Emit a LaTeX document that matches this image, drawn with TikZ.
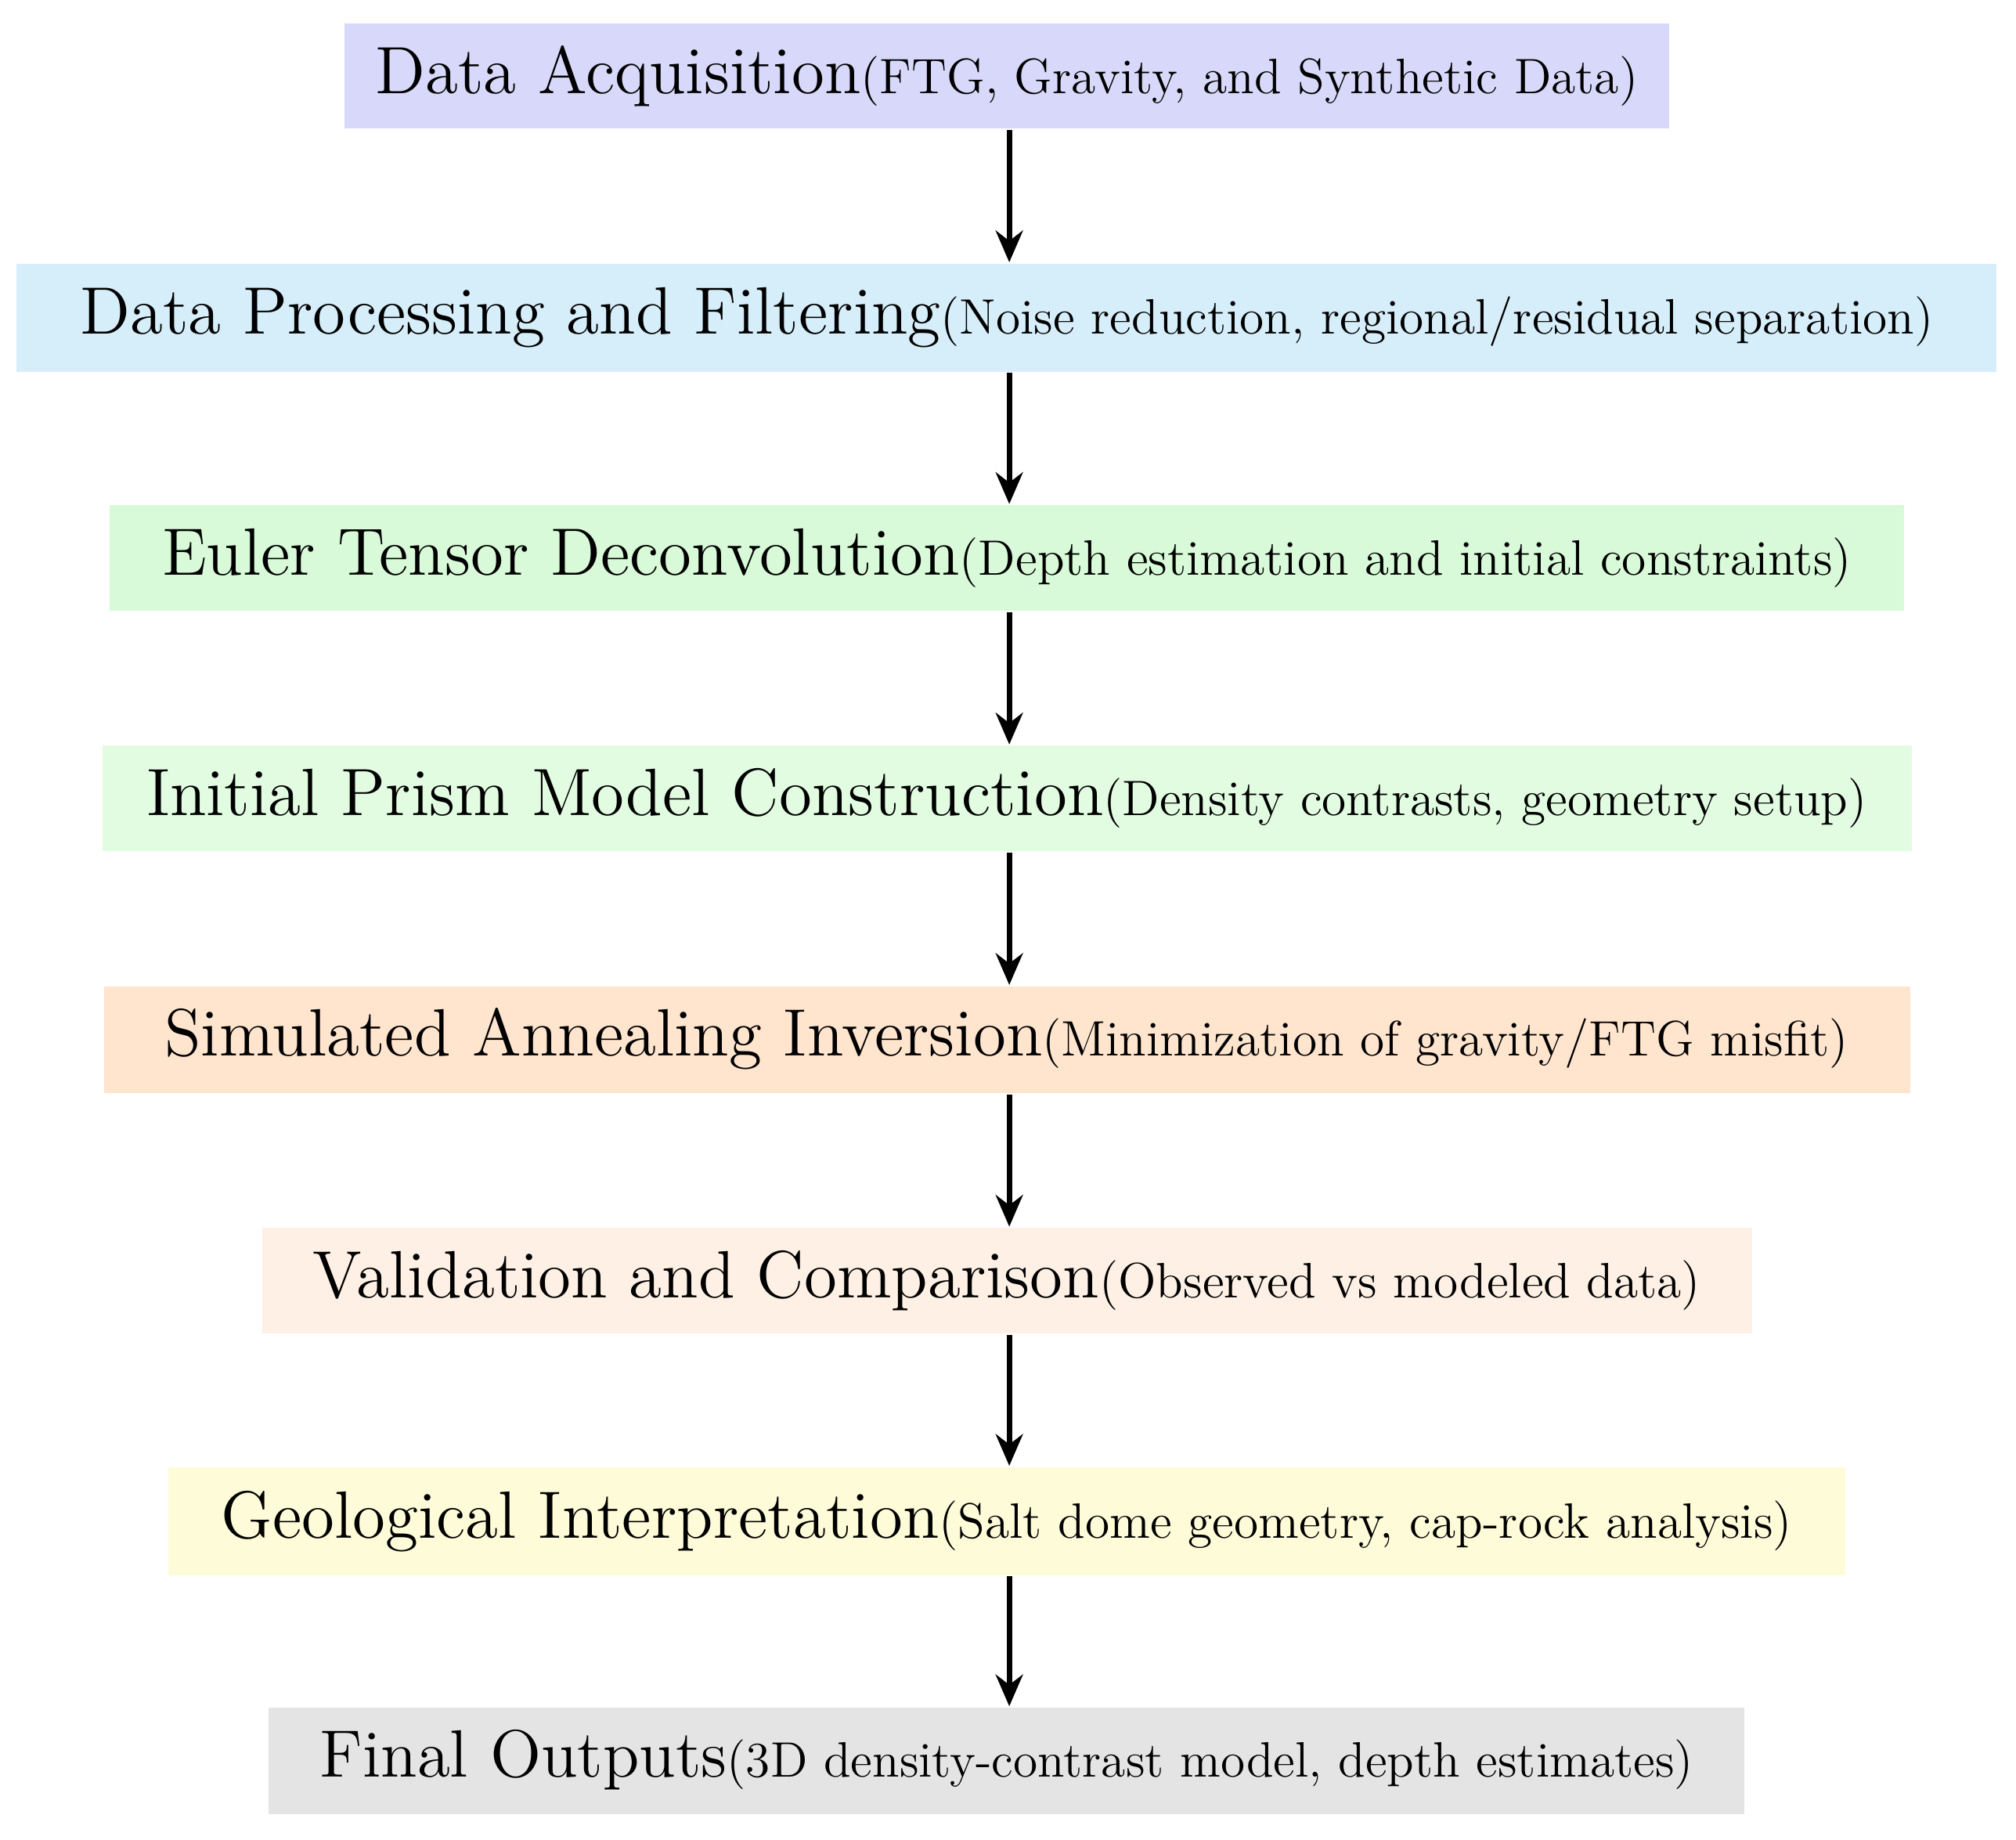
\documentclass[tikz,border=0pt]{standalone}
\usetikzlibrary{arrows.meta}
\begin{document}
\begin{tikzpicture}[x=0.01cm,y=-0.01cm,
  stepbox/.style={inner sep=0pt,minimum height=0.82cm,font=\fontsize{14.8}{17}\selectfont},
  arr/.style={-{Stealth[length=7pt,width=6pt]},line width=1.2pt}]
\newcommand\smtxt{\fontsize{11}{13}\selectfont}
\useasboundingbox (0,0) rectangle (1568,1431);
\definecolor{c1}{RGB}{216,216,250}
\definecolor{c2}{RGB}{214,238,250}
\definecolor{c3}{RGB}{216,250,216}
\definecolor{c4}{RGB}{226,252,226}
\definecolor{c5}{RGB}{255,228,206}
\definecolor{c6}{RGB}{254,240,228}
\definecolor{c7}{RGB}{254,252,216}
\definecolor{c8}{RGB}{228,228,228}
\fill[c1] (268,18) rectangle (1298,100);
\fill[c2] (13,205) rectangle (1553,289);
\fill[c3] (85,393) rectangle (1481,475);
\fill[c4] (80,580) rectangle (1487,662);
\fill[c5] (81,767) rectangle (1486,850);
\fill[c6] (204,955) rectangle (1363,1037);
\fill[c7] (131,1141) rectangle (1435,1225);
\fill[c8] (209,1328) rectangle (1357,1411);
\node[stepbox] (n1) at (783,59) {Data Acquisition{\smtxt(FTG, Gravity, and Synthetic Data)}};
\node[stepbox] (n2) at (783,247) {Data Processing and Filtering{\smtxt(Noise reduction, regional/residual separation)}};
\node[stepbox] (n3) at (783,434) {Euler Tensor Deconvolution{\smtxt(Depth estimation and initial constraints)}};
\node[stepbox] (n4) at (783,621) {Initial Prism Model Construction{\smtxt(Density contrasts, geometry setup)}};
\node[stepbox] (n5) at (783,808) {Simulated Annealing Inversion{\smtxt(Minimization of gravity/FTG misfit)}};
\node[stepbox] (n6) at (783,996) {Validation and Comparison{\smtxt(Observed vs modeled data)}};
\node[stepbox] (n7) at (783,1183) {Geological Interpretation{\smtxt(Salt dome geometry, cap-rock analysis)}};
\node[stepbox] (n8) at (783,1369) {Final Outputs{\smtxt(3D density-contrast model, depth estimates)}};
\coordinate (a1) at (785,101); \coordinate (b1) at (785,204);
\coordinate (a2) at (785,290); \coordinate (b2) at (785,392);
\coordinate (a3) at (785,476); \coordinate (b3) at (785,579);
\coordinate (a4) at (785,663); \coordinate (b4) at (785,766);
\coordinate (a5) at (785,851); \coordinate (b5) at (785,954);
\coordinate (a6) at (785,1038); \coordinate (b6) at (785,1140);
\coordinate (a7) at (785,1226); \coordinate (b7) at (785,1327);
\foreach \i in {1,...,7} \draw[arr] (a\i) -- (b\i);
\end{tikzpicture}
\end{document}
